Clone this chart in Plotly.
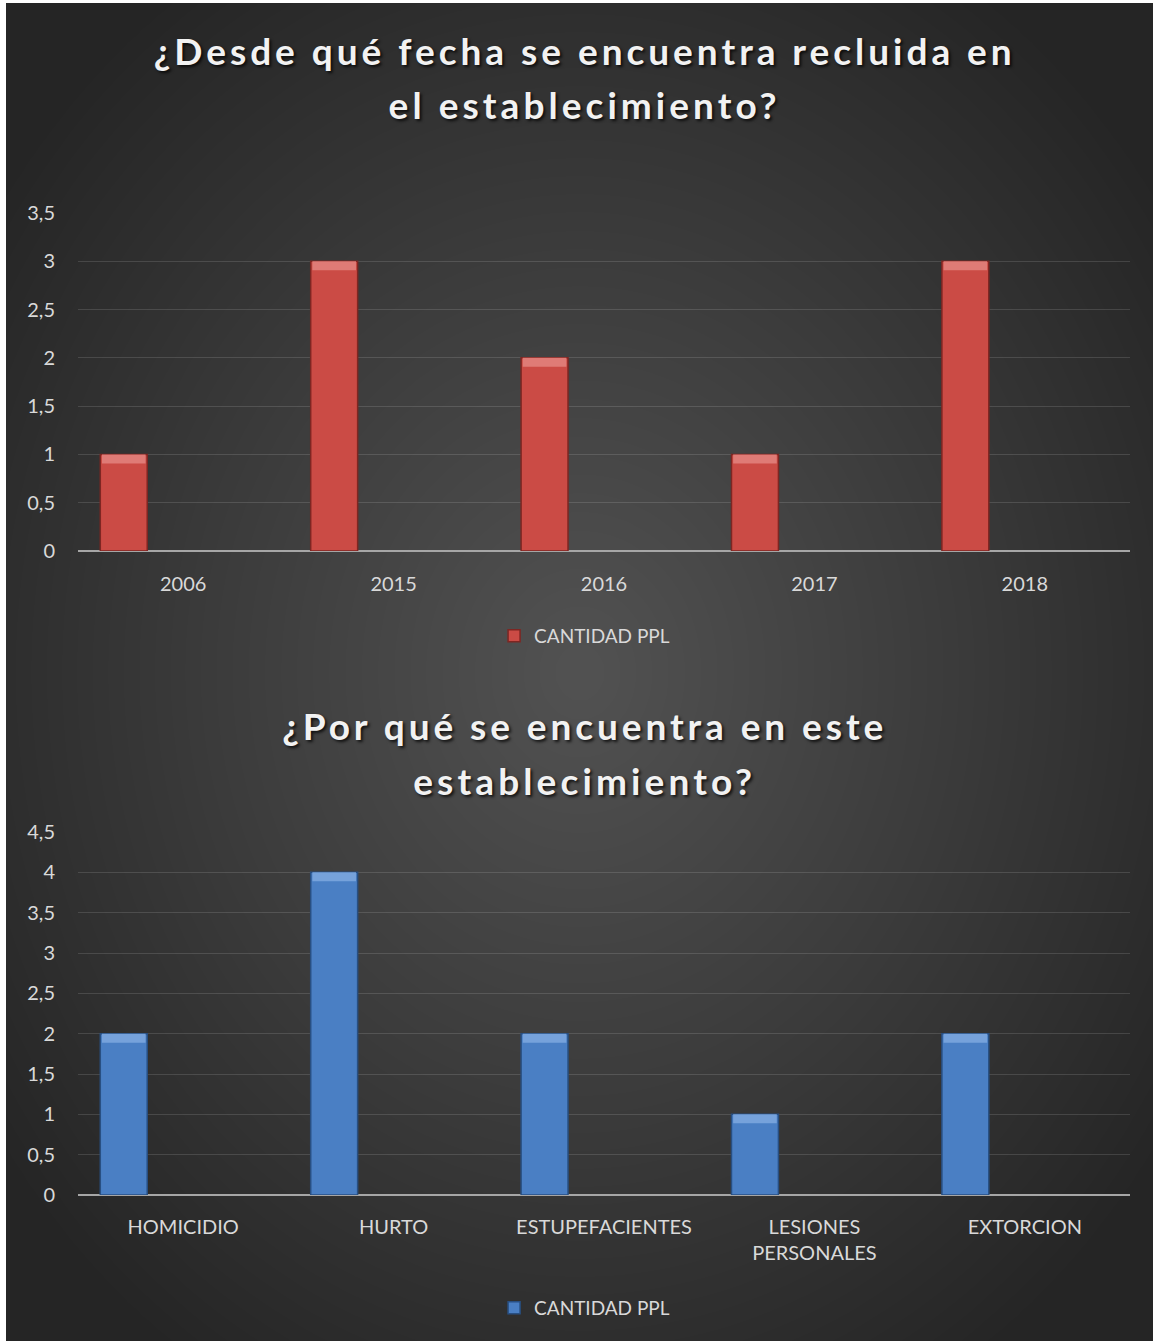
import numpy as np
import plotly.graph_objects as go

# ---- data ----
years = ["2006", "2015", "2016", "2017", "2018"]
years_values = [1, 3, 2, 1, 3]
crimes = ["HOMICIDIO", "HURTO", "ESTUPEFACIENTES", "LESIONES<br>PERSONALES", "EXTORCION"]
crimes_values = [2, 4, 2, 1, 2]
series_name = "CANTIDAD PPL"
title1_lines = ["¿Desde qué fecha se encuentra recluida en", "el establecimiento?"]
title2_lines = ["¿Por qué se encuentra en este", "establecimiento?"]

W, H = 1153, 1341

fig = go.Figure()

# background radial gradient (decorative)
gx = np.linspace(0, 1, 90)
gy = np.linspace(0, 1, 90)
GX, GY = np.meshgrid(gx, gy)
dist = np.sqrt(((GX - 0.5) / 0.62) ** 2 + ((GY - 0.5) / 0.62) ** 2)
dist = np.clip(dist, 0, 1)
fig.add_trace(go.Heatmap(x=gx, y=gy, z=dist, zsmooth="best", showscale=False,
                         colorscale=[[0, "#525252"], [0.5, "#3c3c3c"], [1, "#252525"]],
                         zmin=0, zmax=1, hoverinfo="skip", xaxis="x", yaxis="y"))

bar_w = 0.223
bar_off = -0.394
top1, bot1 = 213, 551
top2, bot2 = 832, 1195
rng1, rng2 = 3.5, 4.5
cap_px = 9
cap1 = cap_px * rng1 / (bot1 - top1)
cap2 = cap_px * rng2 / (bot2 - top2)

fig.add_trace(go.Bar(x=years, y=years_values, name=series_name, xaxis="x2", yaxis="y2",
                     width=bar_w, offset=bar_off,
                     marker=dict(color="#cb4b45", line=dict(color="#7e2622", width=1.5)),
                     legend="legend", hoverinfo="x+y"))
fig.add_trace(go.Bar(x=years, y=[cap1] * len(years_values),
                     base=[v - cap1 for v in years_values],
                     xaxis="x2", yaxis="y2", width=bar_w * 0.93, offset=bar_off + bar_w * 0.035,
                     marker=dict(color="#df7b76", line=dict(width=0)),
                     showlegend=False, hoverinfo="skip"))
fig.add_trace(go.Bar(x=crimes, y=crimes_values, name=series_name, xaxis="x3", yaxis="y3",
                     width=bar_w, offset=bar_off,
                     marker=dict(color="#4a7fc4", line=dict(color="#284f82", width=1.5)),
                     legend="legend2", hoverinfo="x+y"))
fig.add_trace(go.Bar(x=crimes, y=[cap2] * len(crimes_values),
                     base=[v - cap2 for v in crimes_values],
                     xaxis="x3", yaxis="y3", width=bar_w * 0.93, offset=bar_off + bar_w * 0.035,
                     marker=dict(color="#76a2db", line=dict(width=0)),
                     showlegend=False, hoverinfo="skip"))

tickfont = dict(family="Lato, Calibri, sans-serif", size=20, color="#d9d9d9")
px_x0, px_x1 = 78, 1130
xd = [px_x0 / W, px_x1 / W]

def ydom(top, bottom):
    return [1 - bottom / H, 1 - top / H]

grid = "rgba(255,255,255,0.13)"
fig.update_layout(
    width=W, height=H, margin=dict(l=0, r=0, t=0, b=0, autoexpand=False),
    paper_bgcolor="white", plot_bgcolor="rgba(0,0,0,0)",
    separators=",.",
    barmode="overlay",
    xaxis=dict(domain=[6 / W, 1], range=[0, 1], visible=False, fixedrange=True),
    yaxis=dict(domain=[0, 1 - 3 / H], range=[0, 1], visible=False, fixedrange=True),
    xaxis2=dict(domain=xd, anchor="y2", type="category", showgrid=False, ticks="",
                tickfont=tickfont, ticklabelstandoff=19, showline=False, zeroline=False),
    yaxis2=dict(domain=ydom(top1, bot1), anchor="x2", range=[0, rng1], dtick=0.5,
                showgrid=True, gridcolor=grid, gridwidth=1, zeroline=True,
                zerolinecolor="#a6a6a6", zerolinewidth=2, showline=False,
                tickfont=tickfont, ticklabelstandoff=22),
    xaxis3=dict(domain=xd, anchor="y3", type="category", showgrid=False, ticks="",
                tickfont=tickfont, ticklabelstandoff=18, showline=False, zeroline=False),
    yaxis3=dict(domain=ydom(top2, bot2), anchor="x3", range=[0, rng2], dtick=0.5,
                showgrid=True, gridcolor=grid, gridwidth=1, zeroline=True,
                zerolinecolor="#a6a6a6", zerolinewidth=2, showline=False,
                tickfont=tickfont, ticklabelstandoff=22),
    legend=dict(x=0.507, y=1 - 636 / H, xanchor="center", yanchor="middle",
                orientation="h", bgcolor="rgba(0,0,0,0)",
                font=dict(family="Lato, Calibri, sans-serif", size=19, color="#d9d9d9")),
    legend2=dict(x=0.507, y=1 - 1308 / H, xanchor="center", yanchor="middle",
                 orientation="h", bgcolor="rgba(0,0,0,0)",
                 font=dict(family="Lato, Calibri, sans-serif", size=19, color="#d9d9d9")),
    showlegend=True,
)

title_font = dict(family="Lato, Open Sans, sans-serif", size=37, color="#f2f2f2",
                  weight="bold", shadow="2px 2px 3px rgba(0,0,0,0.75)")
title_pos = [(title1_lines[0], 50), (title1_lines[1], 105),
             (title2_lines[0], 725), (title2_lines[1], 780)]
for txt, ypx in title_pos:
    fig.add_annotation(text=txt, x=582 / W, y=1 - ypx / H, xref="paper", yref="paper",
                       xanchor="center", yanchor="middle", showarrow=False, font=title_font)

# widen title letter spacing to match the reference's expanded title text
post = """
document.documentElement.style.margin='0';
document.body.style.margin='0';
var targets=[858,388,601,339];
var els=document.querySelectorAll('.annotation-text');
els.forEach(function(el,i){
  var t=targets[i]; if(!t) return;
  var w=el.getBBox().width; var n=el.textContent.length;
  var ls=(t-w)/(n-1); if(ls>0){ el.style.letterSpacing=ls+'px';
  var x=parseFloat(el.getAttribute('x')||0); el.setAttribute('x', x+ls/2); }
});
"""
fig.write_html("out.html", config={"displayModeBar": False}, post_script=post)
